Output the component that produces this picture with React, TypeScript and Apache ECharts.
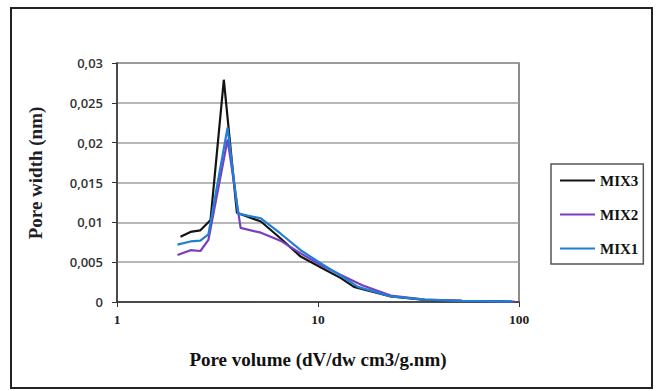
import React, { useEffect, useRef } from "react";
import * as echarts from "echarts";

const seriesNames = ["MIX3", "MIX2", "MIX1"];

const xMIX3 = [2.07, 2.32, 2.6, 2.92, 3.4, 3.95, 5.2, 6.5, 8.2, 10.4, 13, 15.1, 23, 34, 52, 92];
const yMIX3 = [0.0082, 0.0088, 0.009, 0.0103, 0.0279, 0.0112, 0.0101, 0.008, 0.0057, 0.0043, 0.003, 0.0019, 0.0007, 0.00025, 0.00015, 0.00005];

const xMIX2 = [2.0, 2.32, 2.6, 2.85, 3.55, 4.12, 5.2, 6.5, 8.2, 10.4, 13, 16.6, 23, 34, 52, 95];
const yMIX2 = [0.0059, 0.0065, 0.0064, 0.0078, 0.0204, 0.0093, 0.0087, 0.0077, 0.0061, 0.0046, 0.0034, 0.0021, 0.0008, 0.0003, 0.00015, 0.00005];

const xMIX1 = [2.0, 2.32, 2.6, 2.85, 3.55, 4.0, 5.2, 6.5, 8.2, 10.4, 13, 15.8, 23, 34, 52, 92];
const yMIX1 = [0.0072, 0.0076, 0.0077, 0.0085, 0.0219, 0.0111, 0.0105, 0.0086, 0.0065, 0.0048, 0.0033, 0.0019, 0.0007, 0.0003, 0.00015, 0.00005];

const colors = ["#141414", "#7b3cc2", "#1f7fd4"];

const xTicks = [1, 10, 100];
const yTickLabels = ["0", "0,005", "0,01", "0,015", "0,02", "0,025", "0,03"];

const xTitle = "Pore volume (dV/dw cm3/g.nm)";
const yTitle = "Pore width (nm)";

function pairs(xs: number[], ys: number[]) {
  return xs.map((x, i) => [x, ys[i]]);
}

export default function App() {
  const ref = useRef<HTMLDivElement>(null);
  useEffect(() => {
    if (!ref.current) return;
    const chart = echarts.init(ref.current, undefined, { renderer: "svg" });
    const data = [pairs(xMIX3, yMIX3), pairs(xMIX2, yMIX2), pairs(xMIX1, yMIX1)];
    chart.setOption({
      animation: false,
      backgroundColor: "#ffffff",
      grid: {
        left: 117,
        right: 140,
        top: 63,
        bottom: 89,
        show: true,
        borderColor: "#666",
        borderWidth: 1.5,
        backgroundColor: "transparent",
      },
      legend: {
        orient: "vertical",
        left: 551,
        top: 164,
        padding: [9, 5, 8, 8],
        itemWidth: 35,
        itemHeight: 14,
        itemGap: 19,
        borderColor: "#555",
        borderWidth: 1.5,
        data: seriesNames,
        itemStyle: { opacity: 0 },
        textStyle: {
          fontFamily: "Liberation Serif",
          fontWeight: "bold",
          fontSize: 15,
          color: "#111",
        },
      },
      xAxis: {
        type: "log",
        logBase: 10,
        min: xTicks[0],
        max: xTicks[xTicks.length - 1],
        name: xTitle,
        nameLocation: "middle",
        nameGap: 48,
        nameTextStyle: {
          fontFamily: "Liberation Serif",
          fontWeight: "bold",
          fontSize: 19,
          color: "#111",
        },
        axisLine: { show: true, lineStyle: { color: "#333", width: 1.5 } },
        axisTick: { show: true, length: 5, lineStyle: { color: "#333" } },
        minorTick: { show: false },
        splitLine: { show: false },
        axisLabel: {
          fontFamily: "Liberation Serif",
          fontWeight: "bold",
          fontSize: 13.5,
          color: "#222",
          margin: 10,
          formatter: (v: number) => String(Math.round(v)),
        },
      },
      yAxis: {
        type: "value",
        min: 0,
        max: 0.03,
        interval: 0.005,
        axisLine: { show: true, lineStyle: { color: "#333", width: 1.5 } },
        axisTick: { show: true, length: 5, lineStyle: { color: "#333" } },
        splitLine: { show: true, lineStyle: { color: "#a0a0a0", width: 1.5 } },
        axisLabel: {
          fontFamily: "Open Sans",
          fontSize: 13,
          fontWeight: 600,
          color: "#333",
          margin: 14,
          formatter: (v: number) => yTickLabels[Math.round(v / 0.005)] ?? "",
        },
      },
      graphic: [
        {
          type: "rect",
          shape: { x: 11, y: 8, width: 641, height: 380 },
          style: { fill: "none", stroke: "#222", lineWidth: 2 },
          silent: true,
        },
        {
          type: "text",
          x: 35,
          y: 173,
          rotation: Math.PI / 2,
          style: {
            text: yTitle,
            fontFamily: "Liberation Serif",
            fontWeight: "bold",
            fontSize: 19,
            fill: "#1e1e2a",
            align: "center",
            verticalAlign: "middle",
          },
        },
      ],
      series: seriesNames.map((name, i) => ({
        name,
        type: "line",
        data: data[i],
        symbol: "none",
        showSymbol: false,
        smooth: false,
        color: colors[i],
        lineStyle: { color: colors[i], width: 2.2 },
        z: 2 + i,
      })),
    });
    return () => chart.dispose();
  }, []);
  return (
    <div
      ref={ref}
      style={{ position: "fixed", left: 0, top: 0, width: 659, height: 391 }}
    />
  );
}
